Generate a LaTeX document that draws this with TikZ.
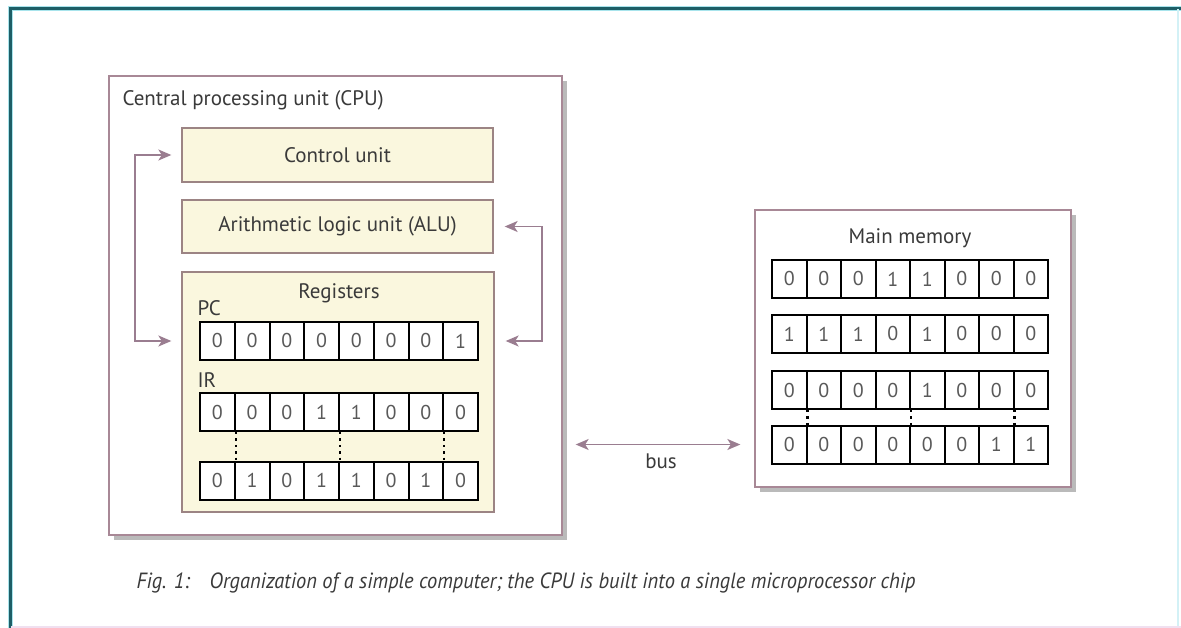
\documentclass[tikz,border=0pt]{standalone}
\usepackage{fontspec}
\setmainfont{PT Sans}
\newfontfamily\capfont[FakeStretch=0.93]{PT Sans}
\usetikzlibrary{arrows.meta,shadows,calc}
\definecolor{frameteal}{HTML}{1E5E66}
\definecolor{framecyan}{HTML}{A8E4EC}
\definecolor{boxedge}{HTML}{A88896}
\definecolor{ylwfill}{HTML}{FAF7DE}
\definecolor{ylwedge}{HTML}{9C8484}
\definecolor{arrowc}{HTML}{9A7D90}
\definecolor{txt}{HTML}{3A3A3A}
\newcommand\bitrow[5]{%
  \foreach \b [count=\i] in {#4} {%
    \node[cell, minimum width=#5pt] (#1\i) at ({#2+(\i-0.5)*#5}, #3) {\b};}}
\begin{document}
\begin{tikzpicture}[x=1pt,y=-1pt,
  font=\fontsize{21}{25}\selectfont, text=txt,
  bigbox/.style={draw=boxedge, line width=1.3pt, fill=white, inner sep=0pt,
    drop shadow={shadow xshift=5pt, shadow yshift=-5pt, fill=black!45, opacity=0.6}},
  unitbox/.style={draw=ylwedge, line width=1.3pt, fill=ylwfill, inner sep=0pt},
  cell/.style={draw=black, line width=2pt, fill=white, minimum height=38pt,
    inner sep=0pt, text=black!65, font=\fontsize{20}{21}\selectfont},
  conn/.style={draw=arrowc, line width=1.8pt,
    arrows={Stealth[length=13pt,width=11pt,inset=3.5pt]-Stealth[length=13pt,width=11pt,inset=3.5pt]}},
  dots/.style={draw=black, line width=2.4pt, dash pattern=on 2.4pt off 4pt}
]
\fill[white] (0,0) rectangle (1181,628);
\useasboundingbox (0,0) rectangle (1181,628);
% outer frame
\draw[framecyan, line width=4.5pt] (10.5,628) -- (10.5,8.5) -- (1181,8.5);
\draw[frameteal, line width=2.2pt] (10.5,628) -- (10.5,8.5) -- (1181,8.5);
\draw[framecyan!50, line width=1.5pt] (1178,9) -- (1178,628);
\draw[violet!12, line width=2pt] (11,626.5) -- (1181,626.5);

% CPU
\node[bigbox, minimum width=453pt, minimum height=459pt] (cpu) at (335.5,305.5) {};
\node[anchor=west] (cpulbl) at (119,100) {Central processing unit (CPU)};
\node[unitbox, minimum width=311pt, minimum height=54pt] (cu) at (337.5,155) {Control unit};
\node[unitbox, minimum width=311pt, minimum height=53pt] (alu) at (337.5,226.5) {Arithmetic logic unit (ALU)};
\node[unitbox, minimum width=312pt, minimum height=240pt] (reg) at (338,392) {};
\node (reglbl) at (339,293) {Registers};
\node[anchor=west] (pclbl) at (194,308) {PC};
\node[anchor=west] (irlbl) at (194,380) {IR};
\bitrow{pc}{200}{341}{0,0,0,0,0,0,0,1}{34.75}
\bitrow{ir}{200}{412}{0,0,0,1,1,0,0,0}{34.75}
\bitrow{lr}{200}{480.5}{0,1,0,1,1,0,1,0}{34.75}
\draw[dots] (ir1.south east) -- (lr1.north east);
\draw[dots] (ir4.south east) -- (lr4.north east);
\draw[dots] (ir7.south east) -- (lr7.north east);

% internal connectors
\draw[conn, shorten <=10pt, shorten >=10pt] (cu.west) -- ++(-46,0) |- (reg.west |- pc1.center);
\draw[conn, shorten <=11pt, shorten >=11pt] (alu.east) -- ++(48,0) |- (reg.east |- pc8.center);

% memory
\node[bigbox, minimum width=316pt, minimum height=277pt] (mem) at (913,348.5) {};
\node (memlbl) at (910,238) {Main memory};
\bitrow{ma}{772}{279}{0,0,0,1,1,0,0,0}{34.5}
\bitrow{mb}{772}{334}{1,1,1,0,1,0,0,0}{34.5}
\bitrow{mc}{772}{390}{0,0,0,0,1,0,0,0}{34.5}
\bitrow{md}{772}{444.5}{0,0,0,0,0,0,1,1}{34.5}
\draw[dots] (mc1.south east) -- (md1.north east);
\draw[dots] (mc4.south east) -- (md4.north east);
\draw[dots] (mc7.south east) -- (md7.north east);

% bus
\draw[conn, shorten <=13pt, shorten >=14pt] (cpu.east |- md1.center) -- (mem.west |- md1.center);
\node (buslbl) at (661,461) {bus};

% caption
\node[anchor=west, font=\capfont\itshape\fontsize{22}{25}\selectfont] (cap) at (133,583)
  {Fig. 1:\hspace{0.9em}Organization of a simple computer; the CPU is built into a single microprocessor chip};
\end{tikzpicture}
\end{document}
